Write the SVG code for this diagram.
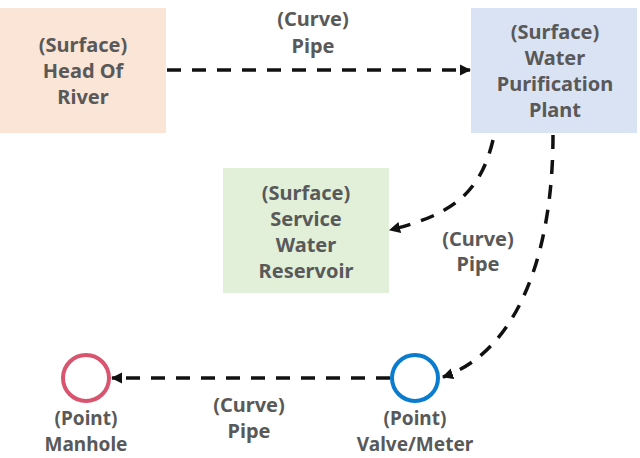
<svg xmlns="http://www.w3.org/2000/svg" width="640" height="458" viewBox="0 0 640 458">
<defs>
<style>
text{font-family:"Noto Sans","Liberation Sans",sans-serif;font-weight:700;font-size:20px;fill:#595959;text-anchor:middle}
text.pt{font-size:19px}
.edge{fill:none;stroke:#111;stroke-width:3.5;stroke-dasharray:14 11;marker-end:url(#ah)}
</style>
<marker id="ah" viewBox="0 0 10 10" refX="9" refY="5" markerWidth="3.2" markerHeight="3.2" orient="auto" markerUnits="strokeWidth">
<path d="M0 0L10 5L0 10z" fill="#111"/>
</marker>
</defs>
<rect width="640" height="458" fill="#fff"/>
<g id="head">
<rect x="0" y="8" width="166" height="125" fill="#fbe5d6"/>
<text x="83" y="52">(Surface)</text>
<text x="83" y="78">Head Of</text>
<text x="83" y="104">River</text>
</g>
<g id="plant">
<rect x="471" y="8" width="166" height="125" fill="#dae3f3"/>
<text x="555" y="39">(Surface)</text>
<text x="555" y="65">Water</text>
<text x="555" y="91">Purification</text>
<text x="555" y="117">Plant</text>
</g>
<g id="reservoir">
<rect x="223" y="168" width="166" height="125" fill="#e2f0d9"/>
<text x="306" y="200">(Surface)</text>
<text x="306" y="226">Service</text>
<text x="306" y="252">Water</text>
<text x="306" y="278">Reservoir</text>
</g>
<g id="manhole">
<ellipse cx="86" cy="378" rx="23" ry="23" fill="none" stroke="#d9546e" stroke-width="4"/>
<text class="pt" x="86" y="425">(Point)</text>
<text class="pt" x="86" y="451">Manhole</text>
</g>
<g id="valve">
<ellipse cx="415" cy="378" rx="23" ry="23" fill="none" stroke="#0a7ccf" stroke-width="4"/>
<text class="pt" x="415" y="425">(Point)</text>
<text class="pt" x="415" y="451">Valve/Meter</text>
</g>
<g id="connectors">
<path class="edge" d="M167 70H470"/>
<path class="edge" d="M493 140C480 195 450 215 390 230"/>
<path class="edge" d="M553 135C553 250 520 350 443 377"/>
<path class="edge" d="M390 378H112"/>
<text x="313" y="26">(Curve)</text>
<text x="313" y="53">Pipe</text>
<text x="478" y="246">(Curve)</text>
<text x="478" y="271">Pipe</text>
<text x="249" y="412">(Curve)</text>
<text x="249" y="438">Pipe</text>
</g>
</svg>
